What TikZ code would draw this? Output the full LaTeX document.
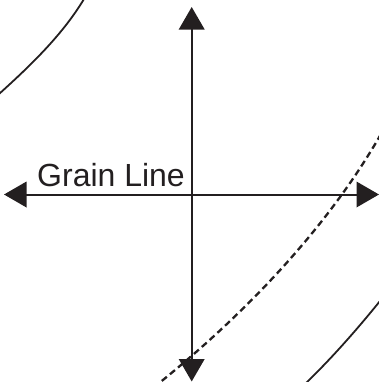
\documentclass[tikz,border=0pt]{standalone}
\usepackage{fontspec}
\setmainfont{Liberation Sans}
\usetikzlibrary{arrows.meta}
\definecolor{ink}{HTML}{231F20}
\begin{document}
\begin{tikzpicture}[x=1bp,y=-1bp,
  axis/.style={draw=ink,line width=2bp,{Triangle[length=22.5bp,width=25.5bp]}-{Triangle[length=22.5bp,width=25.5bp]}},
  arc/.style={draw=ink,line width=1.8bp},
  dashline/.style={draw=ink,line width=2.3bp,dash pattern=on 6.5bp off 4bp},
  label/.style={text=ink,font=\fontsize{32bp}{36bp}\selectfont,inner sep=0pt,anchor=base west}]
\useasboundingbox (0,0) rectangle (379,382);
\begin{scope}
\clip (0,0) rectangle (379,382);
\draw[arc] (84,-1) .. controls (62.4,35) and (30,66) .. (-1,94);
\draw[arc] (380,301) .. controls (359,327) and (333,357) .. (306,383);
\draw[dashline] (381,134) .. controls (325,232) and (240,318) .. (158,384);
\end{scope}
\coordinate (top) at (191.7,7);
\coordinate (bot) at (191.7,381.5);
\coordinate (lft) at (4,194.5);
\coordinate (rgt) at (379,194.5);
\draw[axis] (top) -- (bot);
\draw[axis] (lft) -- (rgt);
\node[label] (gl) at (37,186) {Grain Line};
\end{tikzpicture}
\end{document}
